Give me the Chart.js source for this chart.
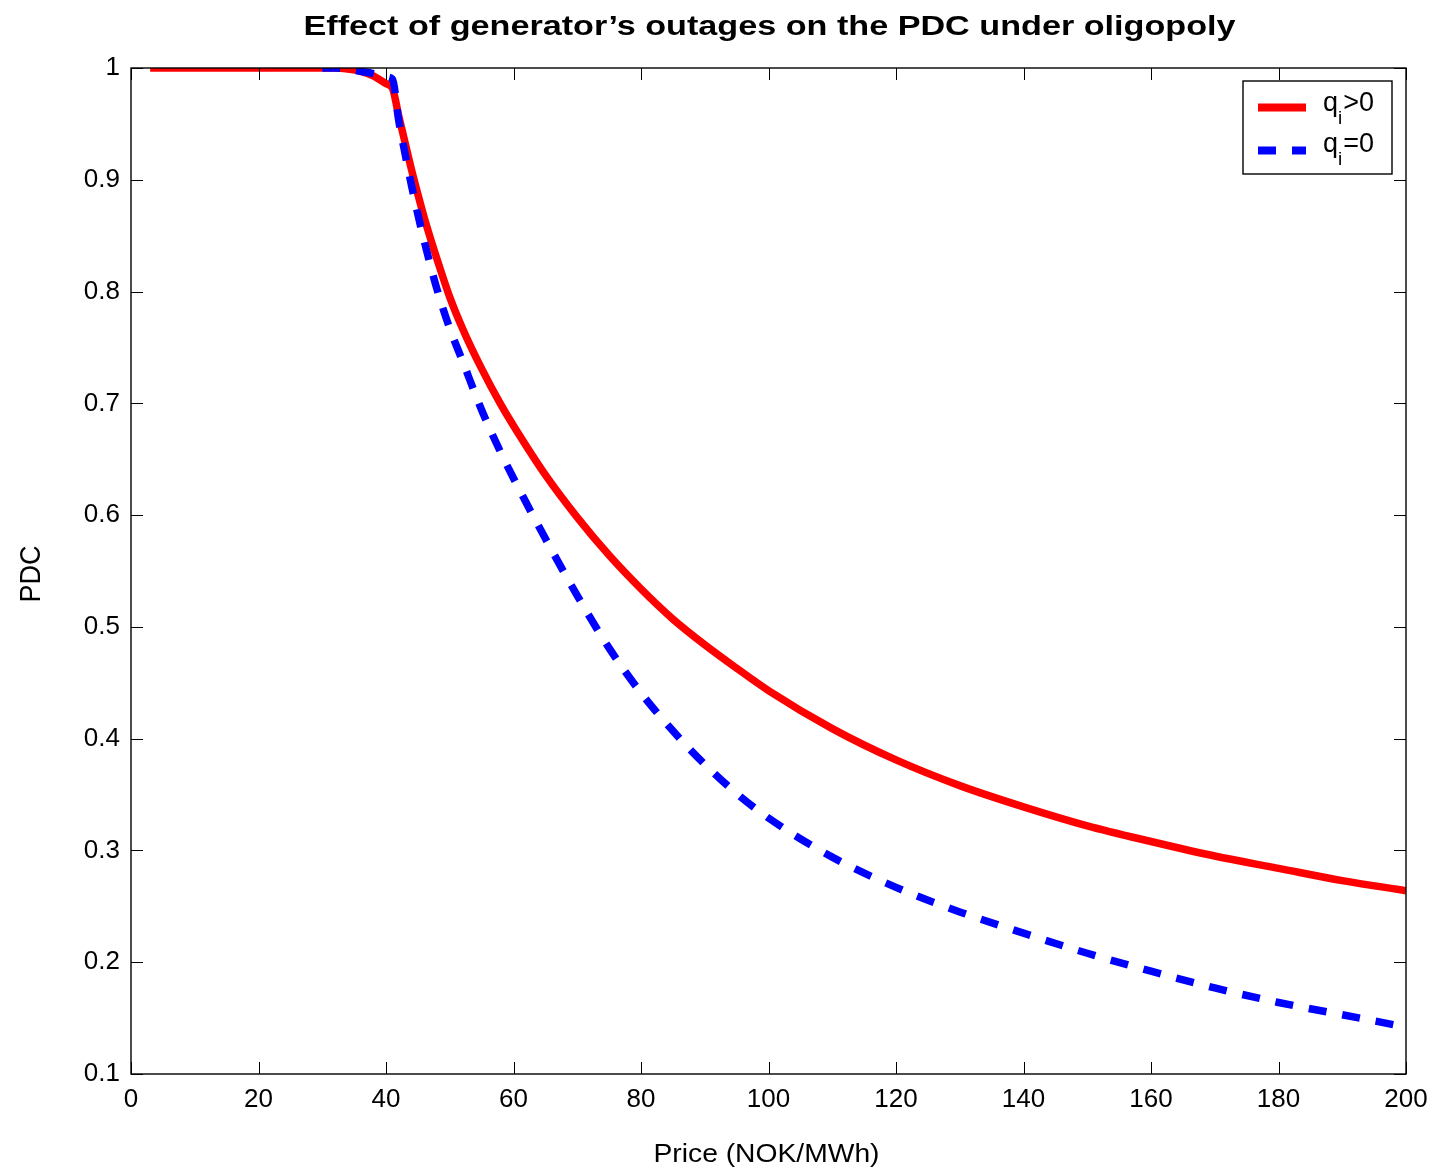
<!DOCTYPE html>
<html>
<head>
<meta charset="utf-8">
<script src="https://cdn.jsdelivr.net/npm/chart.js@4.4.1/dist/chart.umd.min.js"></script>
<style>
  html, body { margin: 0; padding: 0; background: #ffffff; }
  #wrap { width: 1434px; height: 1171px; }
</style>
</head>
<body>
<div id="wrap"><canvas id="c" width="1434" height="1171"></canvas></div>
<script>
// ---- Data ----
const chartTitle = 'Effect of generator\u2019s outages on the PDC under oligopoly';
const xAxisTitle = 'Price (NOK/MWh)';
const yAxisTitle = 'PDC';
const seriesNames = ['q\u1D62>0', 'q\u1D62=0'];
const legendParts = [['q', 'i', '>0'], ['q', 'i', '=0']];

const xTicks = [0, 20, 40, 60, 80, 100, 120, 140, 160, 180, 200];
const yTicks = [0.1, 0.2, 0.3, 0.4, 0.5, 0.6, 0.7, 0.8, 0.9, 1];

// q_i > 0 (red, solid)
const redPrices = [3, 10, 20, 30, 32, 34, 36, 38, 40, 41, 42, 43, 44, 45, 46, 47, 48, 50, 52, 55, 58, 60, 65, 70, 75, 80, 85, 90, 95, 100, 110, 120, 130, 140, 150, 160, 170, 180, 190, 200];
const redPDC    = [1, 1, 1, 1, 1, 0.999, 0.997, 0.993, 0.986, 0.982, 0.957, 0.933, 0.909, 0.887, 0.866, 0.847, 0.829, 0.795, 0.767, 0.731, 0.699, 0.680, 0.636, 0.598, 0.564, 0.534, 0.507, 0.484, 0.463, 0.443, 0.409, 0.381, 0.358, 0.339, 0.322, 0.308, 0.295, 0.284, 0.273, 0.264];

// q_i = 0 (blue, dashed)
const bluePrices = [30, 32, 34, 36, 38, 40, 41, 42, 43, 44, 45, 46, 48, 50, 52, 55, 58, 60, 65, 70, 75, 80, 85, 90, 95, 100, 110, 120, 130, 140, 150, 160, 170, 180, 190, 200];
const bluePDC    = [1, 1, 0.999, 0.997, 0.995, 0.992, 0.99, 0.953, 0.923, 0.895, 0.869, 0.845, 0.802, 0.767, 0.738, 0.694, 0.656, 0.633, 0.579, 0.528, 0.481, 0.441, 0.407, 0.377, 0.351, 0.329, 0.294, 0.267, 0.245, 0.226, 0.208, 0.192, 0.177, 0.164, 0.153, 0.142];

const FONT = "'Liberation Sans', Arial, Helvetica, sans-serif";

function toPoints(xs, ys) { return xs.map((x, i) => ({ x: x, y: ys[i] })); }

function drawStretched(ctx, text, cx, baseline, font, targetW) {
  ctx.save();
  ctx.font = font;
  const w = ctx.measureText(text).width;
  const s = targetW / w;
  ctx.translate(cx, baseline);
  ctx.scale(s, 1);
  ctx.textAlign = 'center';
  ctx.textBaseline = 'alphabetic';
  ctx.fillStyle = '#000';
  ctx.fillText(text, 0, 0);
  ctx.restore();
}

const matlabFrame = {
  id: 'matlabFrame',
  afterDraw(chart) {
    const ctx = chart.ctx;
    const a = chart.chartArea;
    const xs = chart.scales.x, ys = chart.scales.y;
    const tl = 12;
    ctx.save();
    ctx.strokeStyle = '#000';
    ctx.lineWidth = 1;
    ctx.beginPath();
    xs.ticks.forEach(t => {
      const px = Math.round(xs.getPixelForValue(t.value)) + 0.5;
      ctx.moveTo(px, a.bottom); ctx.lineTo(px, a.bottom - tl);
      ctx.moveTo(px, a.top); ctx.lineTo(px, a.top + tl);
    });
    ys.ticks.forEach(t => {
      const py = Math.round(ys.getPixelForValue(t.value)) + 0.5;
      ctx.moveTo(a.left, py); ctx.lineTo(a.left + tl, py);
      ctx.moveTo(a.right, py); ctx.lineTo(a.right - tl, py);
    });
    ctx.stroke();
    ctx.lineWidth = 1.4;
    ctx.strokeRect(a.left, a.top, a.right - a.left, a.bottom - a.top);

    // Titles
    const cx = (a.left + a.right) / 2;
    drawStretched(ctx, chartTitle, cx + 1, 35, 'bold 27px ' + FONT, 932);
    drawStretched(ctx, xAxisTitle, cx - 2, 1162, '26px ' + FONT, 226);
    ctx.save();
    ctx.translate(40, (a.top + a.bottom) / 2 + 3);
    ctx.rotate(-Math.PI / 2);
    ctx.scale(1, 1.1);
    ctx.font = '27px ' + FONT;
    ctx.textAlign = 'center';
    ctx.textBaseline = 'alphabetic';
    ctx.fillStyle = '#000';
    ctx.fillText(yAxisTitle, 0, 0);
    ctx.restore();

    // Legend (inside, top-right)
    const bw = 149, bh = 93;
    const bx = a.right - 14 - bw, by = a.top + 13;
    ctx.fillStyle = '#fff';
    ctx.fillRect(bx, by, bw, bh);
    ctx.lineWidth = 1.4;
    ctx.strokeStyle = '#000';
    ctx.strokeRect(bx, by, bw, bh);
    const ds = chart.data.datasets;
    const rowsLine = [by + 26.5, by + 69.5];
    const rowsText = [by + 30, by + 71];
    for (let i = 0; i < ds.length; i++) {
      ctx.save();
      ctx.strokeStyle = ds[i].borderColor;
      ctx.lineWidth = 8;
      ctx.lineCap = 'butt';
      ctx.setLineDash(ds[i].borderDash || []);
      ctx.beginPath();
      ctx.moveTo(bx + 15, rowsLine[i]);
      ctx.lineTo(bx + 63, rowsLine[i]);
      ctx.stroke();
      ctx.restore();
      const p = legendParts[i];
      let tx = bx + 80;
      ctx.fillStyle = '#000';
      ctx.textAlign = 'left';
      ctx.textBaseline = 'alphabetic';
      ctx.font = '27px ' + FONT;
      ctx.fillText(p[0], tx, rowsText[i]);
      tx += ctx.measureText(p[0]).width;
      ctx.font = '19px ' + FONT;
      ctx.fillText(p[1], tx, rowsText[i] + 13);
      tx += ctx.measureText(p[1]).width + 1;
      ctx.font = '27px ' + FONT;
      ctx.fillText(p[2], tx, rowsText[i]);
    }
    ctx.restore();
  }
};

new Chart(document.getElementById('c'), {
  type: 'line',
  data: {
    datasets: [
      {
        label: seriesNames[0],
        data: toPoints(redPrices, redPDC),
        borderColor: '#ff0000',
        backgroundColor: '#ff0000',
        borderWidth: 7.5,
        pointRadius: 0,
        fill: false,
        cubicInterpolationMode: 'monotone',
        borderJoinStyle: 'round',
        order: 1
      },
      {
        label: seriesNames[1],
        data: toPoints(bluePrices, bluePDC),
        borderColor: '#0000ff',
        backgroundColor: '#0000ff',
        borderWidth: 7.5,
        borderDash: [18, 16],
        borderCapStyle: 'butt',
        pointRadius: 0,
        fill: false,
        cubicInterpolationMode: 'monotone',
        order: 0
      }
    ]
  },
  options: {
    responsive: false,
    animation: false,
    devicePixelRatio: 1,
    layout: { padding: { top: 68, right: 28, left: 0, bottom: 0 } },
    plugins: {
      legend: { display: false },
      title: { display: false },
      tooltip: { enabled: false }
    },
    scales: {
      x: {
        type: 'linear',
        min: xTicks[0],
        max: xTicks[xTicks.length - 1],
        afterBuildTicks: s => { s.ticks = xTicks.map(v => ({ value: v })); },
        afterFit: s => { s.height = 97; s.paddingLeft = 0; s.paddingRight = 0; },
        grid: { display: false, drawTicks: false },
        border: { display: false },
        ticks: {
          padding: 10,
          color: '#000',
          font: { family: FONT, size: 26 },
          maxRotation: 0,
          callback: v => String(v)
        }
      },
      y: {
        type: 'linear',
        min: yTicks[0],
        max: yTicks[yTicks.length - 1],
        afterBuildTicks: s => { s.ticks = yTicks.map(v => ({ value: v })); },
        afterFit: s => { s.width = 131; s.paddingTop = 0; s.paddingBottom = 0; },
        grid: { display: false, drawTicks: false },
        border: { display: false },
        ticks: {
          padding: 11,
          color: '#000',
          font: { family: FONT, size: 26 },
          callback: v => String(Number(v.toFixed(1)))
        }
      }
    }
  },
  plugins: [matlabFrame]
});
</script>
</body>
</html>
